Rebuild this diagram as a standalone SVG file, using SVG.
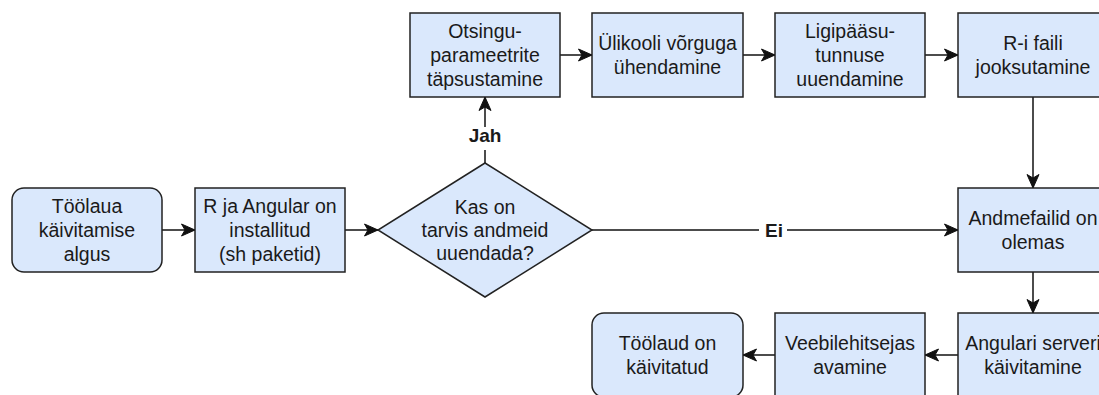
<svg xmlns="http://www.w3.org/2000/svg" width="1099" height="395" viewBox="0 0 1099 395">
<style>
.n{fill:#dae8fc;stroke:#222;stroke-width:1.5}
.t{font-family:"Liberation Sans",Arial,sans-serif;font-size:19.5px;fill:#1a1a1a;text-anchor:middle}
.l{font-family:"Liberation Sans",Arial,sans-serif;font-size:19px;font-weight:bold;fill:#1a1a1a;text-anchor:middle}
.e{fill:none;stroke:#111;stroke-width:1.5;marker-end:url(#a)}
</style>
<defs>
<marker id="a" markerUnits="userSpaceOnUse" markerWidth="16" markerHeight="14" refX="14.5" refY="7" orient="auto" viewBox="0 0 16 14">
<path d="M1,1 L14.5,7 L1,13 L4.5,7 Z" fill="#111" stroke="#111" stroke-width="1"/>
</marker>
</defs>
<rect width="1099" height="395" fill="#fff"/>
<g id="connectors">
<path class="e" d="M162,230 L195,230"/>
<path class="e" d="M345,230 L378,230"/>
<path class="e" d="M485,163 L485,97"/>
<path class="e" d="M560,55 L592,55"/>
<path class="e" d="M743,55 L775,55"/>
<path class="e" d="M925,55 L958,55"/>
<path class="e" d="M1033,97 L1033,188"/>
<path class="e" d="M592,230 L958,230"/>
<path class="e" d="M1033,272 L1033,313"/>
<path class="e" d="M958,355 L925,355"/>
<path class="e" d="M775,355 L743,355"/>
<rect x="466" y="127" width="38" height="23" fill="#fff"/>
<text class="l" x="485" y="142">Jah</text>
<rect x="759" y="220" width="28" height="20" fill="#fff"/>
<text class="l" x="774" y="237">Ei</text>
</g>
<g id="start">
<rect class="n" x="12" y="188" width="150" height="84" rx="12"/>
<text class="t" x="87" y="213">Töölaua</text>
<text class="t" x="87" y="237">käivitamise</text>
<text class="t" x="87" y="261">algus</text>
</g>
<g id="installed">
<rect class="n" x="195" y="188" width="150" height="84"/>
<text class="t" x="270" y="213">R ja Angular on</text>
<text class="t" x="270" y="237">installitud</text>
<text class="t" x="270" y="261">(sh paketid)</text>
</g>
<g id="decision">
<path class="n" d="M485,163 L592,230 L485,297 L378,230 Z"/>
<text class="t" x="485" y="214">Kas on</text>
<text class="t" x="485" y="237">tarvis andmeid</text>
<text class="t" x="485" y="260">uuendada?</text>
</g>
<g id="params">
<rect class="n" x="410" y="13" width="150" height="84"/>
<text class="t" x="485" y="38">Otsingu-</text>
<text class="t" x="485" y="62">parameetrite</text>
<text class="t" x="485" y="86">täpsustamine</text>
</g>
<g id="network">
<rect class="n" x="592" y="13" width="151" height="84"/>
<text class="t" x="667.5" y="50">Ülikooli võrguga</text>
<text class="t" x="667.5" y="74">ühendamine</text>
</g>
<g id="token">
<rect class="n" x="775" y="13" width="150" height="84"/>
<text class="t" x="850" y="38">Ligipääsu-</text>
<text class="t" x="850" y="62">tunnuse</text>
<text class="t" x="850" y="86">uuendamine</text>
</g>
<g id="rfile">
<rect class="n" x="958" y="13" width="150" height="84"/>
<text class="t" x="1033" y="50">R-i faili</text>
<text class="t" x="1033" y="74">jooksutamine</text>
</g>
<g id="datafiles">
<rect class="n" x="958" y="188" width="150" height="84"/>
<text class="t" x="1033" y="225">Andmefailid on</text>
<text class="t" x="1033" y="249">olemas</text>
</g>
<g id="server">
<rect class="n" x="958" y="313" width="150" height="84"/>
<text class="t" x="1033" y="350">Angulari serveri</text>
<text class="t" x="1033" y="374">käivitamine</text>
</g>
<g id="browser">
<rect class="n" x="775" y="313" width="150" height="84"/>
<text class="t" x="850" y="350">Veebilehitsejas</text>
<text class="t" x="850" y="374">avamine</text>
</g>
<g id="end">
<rect class="n" x="592" y="313" width="151" height="84" rx="12"/>
<text class="t" x="667.5" y="350">Töölaud on</text>
<text class="t" x="667.5" y="374">käivitatud</text>
</g>
</svg>
